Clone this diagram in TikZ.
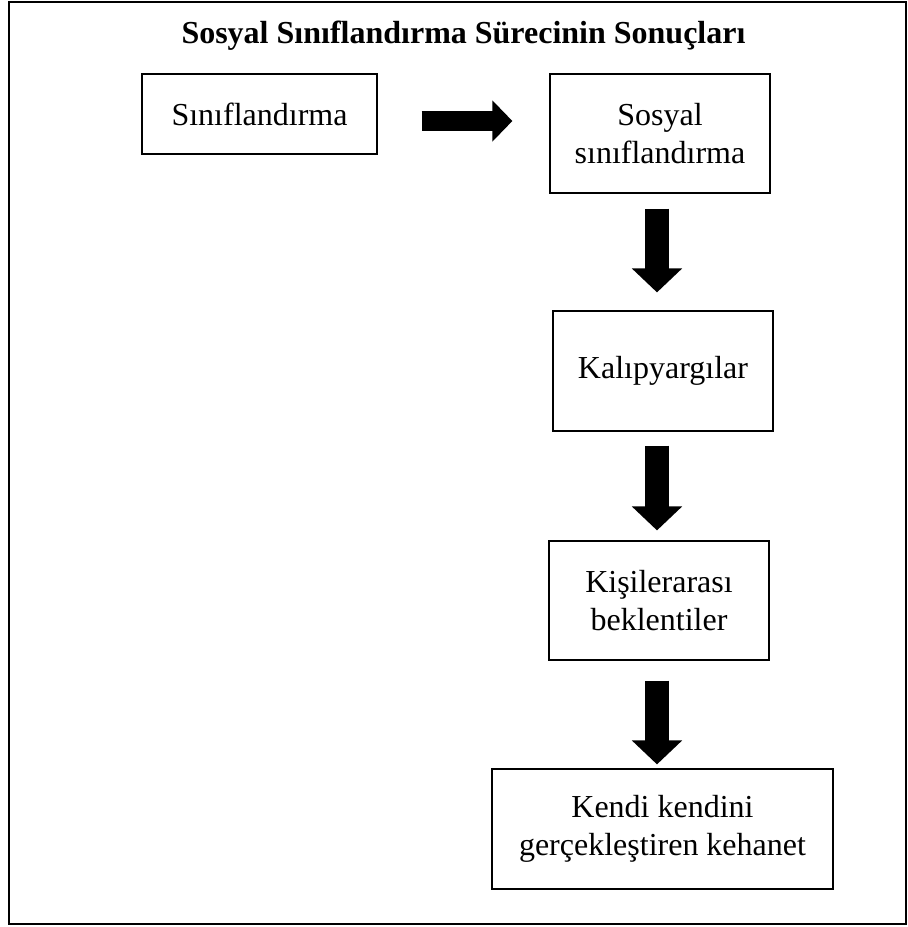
\documentclass[tikz,border=0pt]{standalone}
\usepackage{fontspec}
\setmainfont{Liberation Serif}
\usetikzlibrary{arrows.meta}

\begin{document}
\begin{tikzpicture}[x=.5pt,y=-.5pt,
  kutu/.style={draw,line width=.6pt,align=center,inner sep=0pt,font=\fontsize{16}{19}\selectfont},
  yanok/.style={line width=10pt,-{Triangle[width=20pt,length=10pt]}},
  asagiok/.style={line width=12pt,-{Triangle[width=24.5pt,length=12pt]}}]
\path[use as bounding box] (0,0) rectangle (908,927);
\draw[line width=1pt] (9,2) rectangle (906,924);
\node[anchor=base,font=\bfseries\fontsize{16}{19}\selectfont] (baslik) at (463.5,43) {Sosyal Sınıflandırma Sürecinin Sonuçları};
\node[kutu,minimum width=117.5pt,minimum height=40pt] (sinif) at (259.5,114) {Sınıflandırma};
\node[kutu,minimum width=110pt,minimum height=59.5pt] (sosyal) at (660,133.5) {Sosyal\\sınıflandırma};
\node[kutu,minimum width=110pt,minimum height=60pt] (kalip) at (663,371) {Kalıpyargılar};
\node[kutu,minimum width=110pt,minimum height=59.5pt] (kisi) at (659,600.5) {Kişilerarası\\beklentiler};
\node[kutu,minimum width=170.5pt,minimum height=60pt] (kendi) at (662.5,829) {Kendi kendini\\gerçekleştiren kehanet};
\draw[yanok,shorten <=22pt,shorten >=18.5pt] ([yshift=-3.5pt]sinif.east) -- ([yshift=-3.5pt]sinif.east -| sosyal.west);
\draw[asagiok,shorten <=7.5pt,shorten >=9pt] ([xshift=-1.5pt]sosyal.south) -- ([xshift=-1.5pt]sosyal.south |- kalip.north);
\draw[asagiok,shorten <=7pt,shorten >=5pt] ([xshift=-3pt]kalip.south) -- ([xshift=-3pt]kalip.south |- kisi.north);
\draw[asagiok,shorten <=10pt,shorten >=2pt] ([xshift=-1pt]kisi.south) -- ([xshift=-1pt]kisi.south |- kendi.north);
\end{tikzpicture}
\end{document}
